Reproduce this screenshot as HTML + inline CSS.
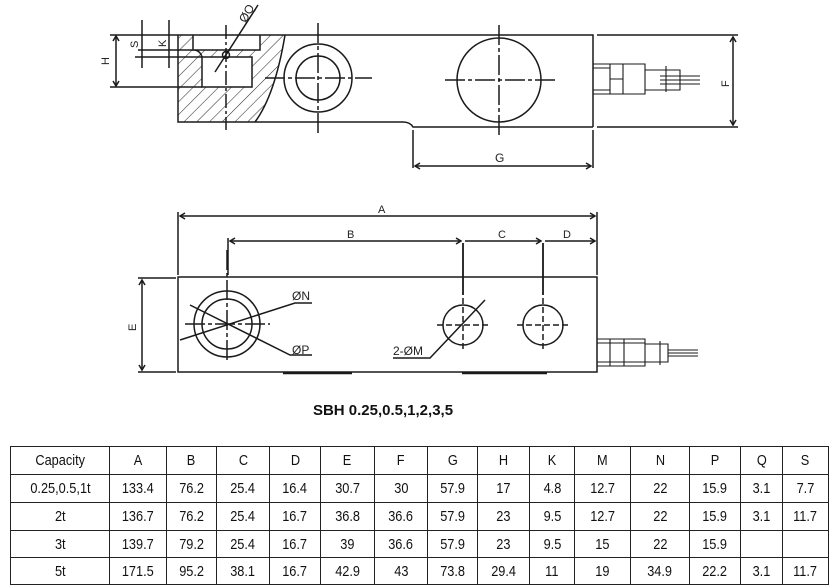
<!DOCTYPE html>
<html><head><meta charset="utf-8"><style>
body{margin:0;background:#fff;width:838px;height:585px;overflow:hidden;font-family:"Liberation Sans",sans-serif}
svg{position:absolute;left:0;top:0}
table{position:absolute;left:10px;top:446px;border-collapse:collapse;font-family:"Liberation Sans Narrow","Liberation Sans",sans-serif;font-size:15px;color:#111}
td{border:1.5px solid #222;text-align:center;height:25px;padding:0}
td span{display:inline-block;transform:scaleX(0.85)}
</style></head><body>
<svg width="838" height="445" viewBox="0 0 838 445" fill="none" stroke="#1a1a1a" stroke-width="1.5" font-family="Liberation Sans, sans-serif">
<defs>
<pattern id="h" width="9" height="9" patternUnits="userSpaceOnUse" patternTransform="rotate(45)"><line x1="0" y1="0" x2="0" y2="9" stroke="#333" stroke-width="1.1"/></pattern>
</defs>
<path d="M178 35 L285 35 Q275 95 255 122 L178 122 Z M193 35 L193 50 L260 50 L260 35 Z M202 57 L252 57 L252 87 L202 87 Z" fill="url(#h)" fill-rule="evenodd" stroke="none"/>
<path d="M178 35 H593 V127 M178 35 V122 H403 Q410 122 413 127 H593"/>
<path d="M285 35 Q275 95 255 122"/>
<path d="M193 35 V50 H260 V35 M202 57 H252 V87 H202 Z M193 50 Q200 50 202 57"/>
<path d="M215 72 L258 5" />
<circle cx="226" cy="55" r="3.5"/>
<path d="M226 25 V130" stroke-dasharray="14 3 3 3"/>
<text x="240" y="22" font-size="12" fill="#222" stroke="none" transform="rotate(-60 244 18)">ØQ</text>
<circle cx="318" cy="78" r="34"/><circle cx="318" cy="78" r="22"/>
<path d="M318 23 V133 M265 78 H372" stroke-dasharray="20 3 4 3"/>
<circle cx="499" cy="80" r="42"/>
<path d="M499 25 V136 M445 80 H555" stroke-dasharray="20 3 4 3"/>
<path d="M593 64 H645 V94 H593 M593 68 H610 M593 90 H610 M610 64 V94 M623 64 V94 M610 79 H623 M645 70 H680 V90 H645 M666 66 V92 M660 76 H700 M660 80 H700 M660 84 H700" stroke-width="1.1"/>
<path d="M597 35 H738 M597 127 H738 M733 37 V125"/>
<path d="M730 42 L733 37 L736 42 M730 120 L733 125 L736 120" />
<text x="720" y="86" font-size="11" fill="#222" stroke="none" transform="rotate(-90 725 82)">F</text>
<path d="M413 130 V168 M593 130 V168 M415 166 H591"/>
<path d="M420 163 L415 166 L420 169 M586 163 L591 166 L586 169"/>
<text x="495" y="162" font-size="12" fill="#222" stroke="none">G</text>
<path d="M110 35 H178 M110 87 H202 M116 37 V85 M142 20 V68 M169 20 V68 M138 50 H193 M135 57 H202"/>
<path d="M113 41 L116 36 L119 41 M113 81 L116 86 L119 81"/>
<text x="100" y="64" font-size="11" fill="#222" stroke="none" transform="rotate(-90 105 60)">H</text>
<text x="129" y="47" font-size="11" fill="#222" stroke="none" transform="rotate(-90 134 43)">S</text>
<text x="157" y="46" font-size="11" fill="#222" stroke="none" transform="rotate(-90 162 42)">K</text>
<rect x="178" y="277" width="419" height="95"/>
<path d="M283 373 H352 M462 373 H547" stroke-width="2.5"/>
<circle cx="227" cy="324" r="33"/><circle cx="227" cy="324" r="25"/>
<path d="M227 250 V360 M185 324 H270" stroke-dasharray="20 3 4 3"/>
<path d="M180 340 L295 303 H312 M190 305 L290 355 H312"/>
<circle cx="463" cy="325" r="20"/><circle cx="543" cy="325" r="20"/>
<path d="M463 243 V295 M543 243 V295" stroke-width="1.8"/>
<path d="M463 298 V352 M437 325 H490 M543 298 V352 M517 325 H570" stroke-dasharray="6 3"/>
<path d="M485 300 L430 358 H393"/>
<text x="292" y="300" font-size="12" fill="#222" stroke="none">ØN</text>
<text x="292" y="354" font-size="12" fill="#222" stroke="none">ØP</text>
<text x="393" y="355" font-size="12" fill="#222" stroke="none">2-ØM</text>
<path d="M178 212 V275 M597 212 V275 M228 238 V275 M180 216 H595 M230 241 H461 M465 241 H541 M545 241 H595"/>
<path d="M185 213 L180 216 L185 219 M590 213 L595 216 L590 219 M235 238 L230 241 L235 244 M456 238 L461 241 L456 244 M536 238 L541 241 L536 244 M590 238 L595 241 L590 244"/>
<text x="378" y="213" font-size="11" fill="#222" stroke="none">A</text>
<text x="347" y="238" font-size="11" fill="#222" stroke="none">B</text>
<text x="498" y="238" font-size="11" fill="#222" stroke="none">C</text>
<text x="563" y="238" font-size="11" fill="#222" stroke="none">D</text>
<path d="M138 278 H176 M138 372 H176 M142 280 V370"/>
<path d="M139 285 L142 280 L145 285 M139 365 L142 370 L145 365"/>
<text x="127" y="330" font-size="11" fill="#222" stroke="none" transform="rotate(-90 132 326)">E</text>
<path d="M597 339 H645 V366 H597 M597 343 H645 M597 362 H645 M610 339 V366 M624 339 V366 M645 344 H668 V362 H645 M660 341 V365 M668 350 H698 M668 353 H698 M668 356 H698" stroke-width="1.1"/>
<text x="383" y="415" font-size="15" font-weight="bold" fill="#111" stroke="none" text-anchor="middle">SBH 0.25,0.5,1,2,3,5</text>
</svg>
<table>
<colgroup><col style="width:99px"><col style="width:57px"><col style="width:50px"><col style="width:53px"><col style="width:51px"><col style="width:54px"><col style="width:53px"><col style="width:50px"><col style="width:52px"><col style="width:45px"><col style="width:56px"><col style="width:59px"><col style="width:51px"><col style="width:42px"><col style="width:46px"></colgroup>
<tr style="height:28px"><td><span>Capacity</span></td><td><span>A</span></td><td><span>B</span></td><td><span>C</span></td><td><span>D</span></td><td><span>E</span></td><td><span>F</span></td><td><span>G</span></td><td><span>H</span></td><td><span>K</span></td><td><span>M</span></td><td><span>N</span></td><td><span>P</span></td><td><span>Q</span></td><td><span>S</span></td></tr>
<tr style="height:28px"><td><span>0.25,0.5,1t</span></td><td><span>133.4</span></td><td><span>76.2</span></td><td><span>25.4</span></td><td><span>16.4</span></td><td><span>30.7</span></td><td><span>30</span></td><td><span>57.9</span></td><td><span>17</span></td><td><span>4.8</span></td><td><span>12.7</span></td><td><span>22</span></td><td><span>15.9</span></td><td><span>3.1</span></td><td><span>7.7</span></td></tr>
<tr style="height:28px"><td><span>2t</span></td><td><span>136.7</span></td><td><span>76.2</span></td><td><span>25.4</span></td><td><span>16.7</span></td><td><span>36.8</span></td><td><span>36.6</span></td><td><span>57.9</span></td><td><span>23</span></td><td><span>9.5</span></td><td><span>12.7</span></td><td><span>22</span></td><td><span>15.9</span></td><td><span>3.1</span></td><td><span>11.7</span></td></tr>
<tr style="height:27px"><td><span>3t</span></td><td><span>139.7</span></td><td><span>79.2</span></td><td><span>25.4</span></td><td><span>16.7</span></td><td><span>39</span></td><td><span>36.6</span></td><td><span>57.9</span></td><td><span>23</span></td><td><span>9.5</span></td><td><span>15</span></td><td><span>22</span></td><td><span>15.9</span></td><td></td><td></td></tr>
<tr style="height:27px"><td><span>5t</span></td><td><span>171.5</span></td><td><span>95.2</span></td><td><span>38.1</span></td><td><span>16.7</span></td><td><span>42.9</span></td><td><span>43</span></td><td><span>73.8</span></td><td><span>29.4</span></td><td><span>11</span></td><td><span>19</span></td><td><span>34.9</span></td><td><span>22.2</span></td><td><span>3.1</span></td><td><span>11.7</span></td></tr>
</table>
</body></html>
